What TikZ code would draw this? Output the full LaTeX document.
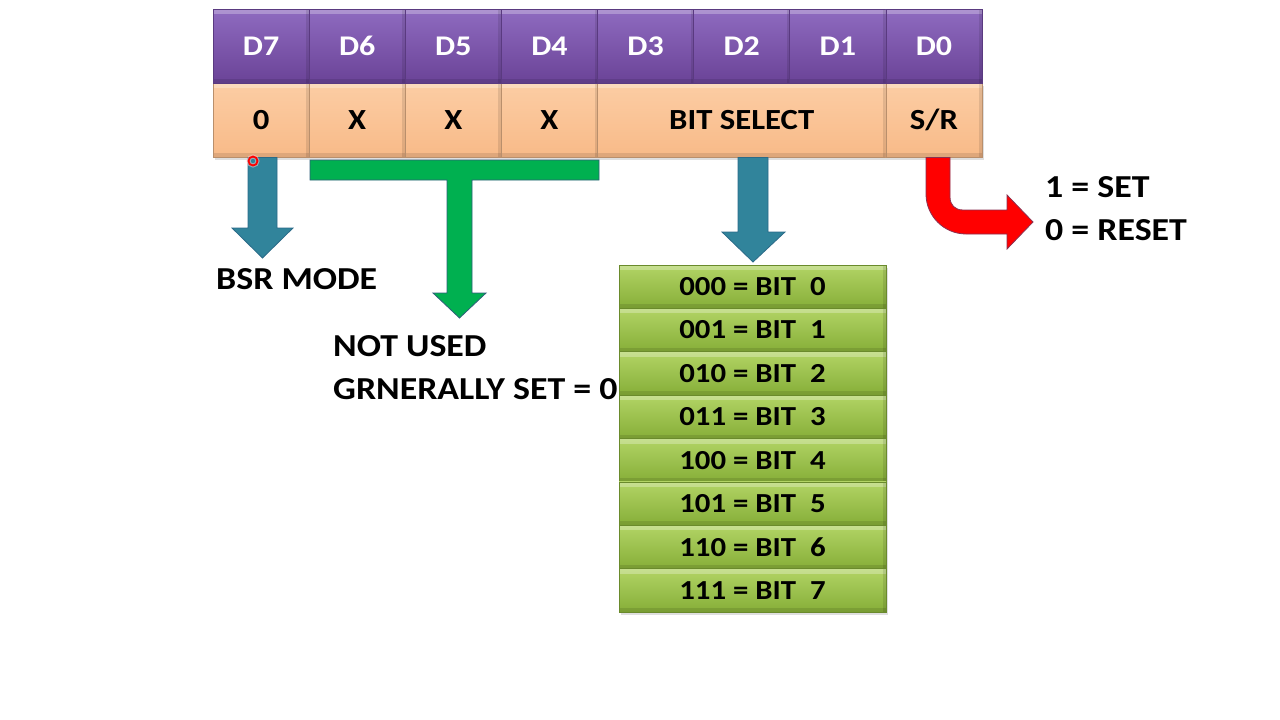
\documentclass[tikz,border=0pt]{standalone}
\usepackage{fontspec}
\setmainfont{Carlito}[FakeStretch=1.12]
\usetikzlibrary{calc,shadows}
\definecolor{purtop}{HTML}{8F6BC0}
\definecolor{purbot}{HTML}{6A4397}
\definecolor{purline}{HTML}{5A3A80}
\definecolor{peachtop}{HTML}{FCCDA4}
\definecolor{peachbot}{HTML}{F8BA88}
\definecolor{peachline}{HTML}{B98F6C}
\definecolor{grtop}{HTML}{B2D465}
\definecolor{grbot}{HTML}{86AE38}
\definecolor{grline}{HTML}{6A8A2C}
\definecolor{teal}{HTML}{31849B}
\definecolor{tealline}{HTML}{2B6A88}
\definecolor{brgreen}{HTML}{00B050}
\definecolor{brline}{HTML}{2F5F7A}
\definecolor{redline}{HTML}{8A3050}
\tikzset{
  bevel/.style={path picture={
      \fill[white, opacity=0.28] (path picture bounding box.north west) rectangle ([yshift=-5pt]path picture bounding box.north east);
      \fill[black, opacity=0.10] ([xshift=-3pt]path picture bounding box.north east) rectangle (path picture bounding box.south east);
      \fill[black, opacity=0.10] (path picture bounding box.south west) rectangle ([yshift=4pt]path picture bounding box.south east);
  }},
  cellshadow/.style={drop shadow={opacity=0.25, shadow xshift=1.5pt, shadow yshift=-2.5pt}},
  hdr/.style={draw=purline, line width=0.6pt, top color=purtop, bottom color=purbot, bevel,
    minimum width=96.125pt, minimum height=74pt, inner sep=0pt, text=white,
    font=\bfseries\fontsize{28.5}{32}\selectfont},
  val/.style={draw=peachline, line width=0.6pt, top color=peachtop, bottom color=peachbot, bevel, cellshadow,
    minimum height=74pt, inner sep=0pt, text=black,
    font=\bfseries\fontsize{29.2}{32}\selectfont},
  row/.style={draw=grline, line width=0.6pt, top color=grtop, bottom color=grbot, bevel, cellshadow,
    minimum width=267pt, minimum height=43.375pt, inner sep=0pt, text=black,
    font=\bfseries\fontsize{27.5}{32}\selectfont},
  lbl/.style={anchor=west, inner sep=0pt, text=black, font=\bfseries\fontsize{32}{36}\selectfont},
  bluearrow/.style={fill=teal, draw=tealline, line width=0.8pt, line join=miter},
  greenarrow/.style={fill=brgreen, draw=brline, line width=0.8pt, line join=miter},
  redarrow/.style={fill=red, draw=redline, line width=0.8pt, line join=miter}
}
\begin{document}
\begin{tikzpicture}[x=1pt,y=-1pt]
\useasboundingbox[fill=white] (0,0) rectangle (1280,720);
% value row (drawn first so header covers its shadow)
\node[val, minimum width=96.125pt] (v7) at ({213+96.125*0.5},120) {0};
\node[val, minimum width=96.125pt] (v6) at ({213+96.125*1.5},120) {X};
\node[val, minimum width=96.125pt] (v5) at ({213+96.125*2.5},120) {X};
\node[val, minimum width=96.125pt] (v4) at ({213+96.125*3.5},120) {X};
\node[val, minimum width=288.375pt] (bs) at ({213+96.125*5.5},120) {BIT SELECT};
\node[val, minimum width=96.125pt] (sr) at ({213+96.125*7.5},120) {S/R};
% header row
\foreach \i/\t in {0/D7,1/D6,2/D5,3/D4,4/D3,5/D2,6/D1,7/D0}{
  \node[hdr] (h\i) at ({213+96.125*(\i+0.5)},46) {\t};
}
% arrows
\draw[bluearrow] (248,157.5) -- (277,157.5) -- (277,228) -- (293,228) -- (262.5,258) -- (232,228) -- (248,228) -- cycle;
\draw[greenarrow] (310,160) -- (599,160) -- (599,180) -- (472,180) -- (472,293) -- (486,293) -- (459.5,318) -- (433,293) -- (447,293) -- (447,180) -- (310,180) -- cycle;
\draw[bluearrow] (738,157.5) -- (768,157.5) -- (768,232) -- (785,232) -- (753,262) -- (722,232) -- (738,232) -- cycle;
\draw[redarrow] (926,157.5) -- (950,157.5) -- (950,197)
  .. controls (950,205) and (955,210) .. (963,210) -- (1007,210) -- (1007,195) -- (1033,222)
  -- (1007,249) -- (1007,234) -- (966,234)
  .. controls (944,234) and (926,216) .. (926,194) -- cycle;
% cursor mark
\draw[red!20, line width=4pt, opacity=0.5] (253,161) circle (4.5pt);
\draw[red, line width=1.8pt] (253,161) circle (4.5pt);
% labels
\node[lbl] (bsr) at (216,279) {BSR MODE};
\node[lbl] (nu) at (333,346) {NOT USED};
\node[lbl] (gs) at (333,389) {GRNERALLY SET = 0};
\node[lbl] (set) at (1045,187) {1 = SET};
\node[lbl] (rst) at (1045,230) {0 = RESET};
% bit table
\foreach \k/\b in {0/000,1/001,2/010,3/011,4/100,5/101,6/110,7/111}{
  \node[row] (r\k) at (752.5,{265+43.375*(\k+0.5)}) {\b{} = BIT\ \ \k};
}
\end{tikzpicture}
\end{document}
